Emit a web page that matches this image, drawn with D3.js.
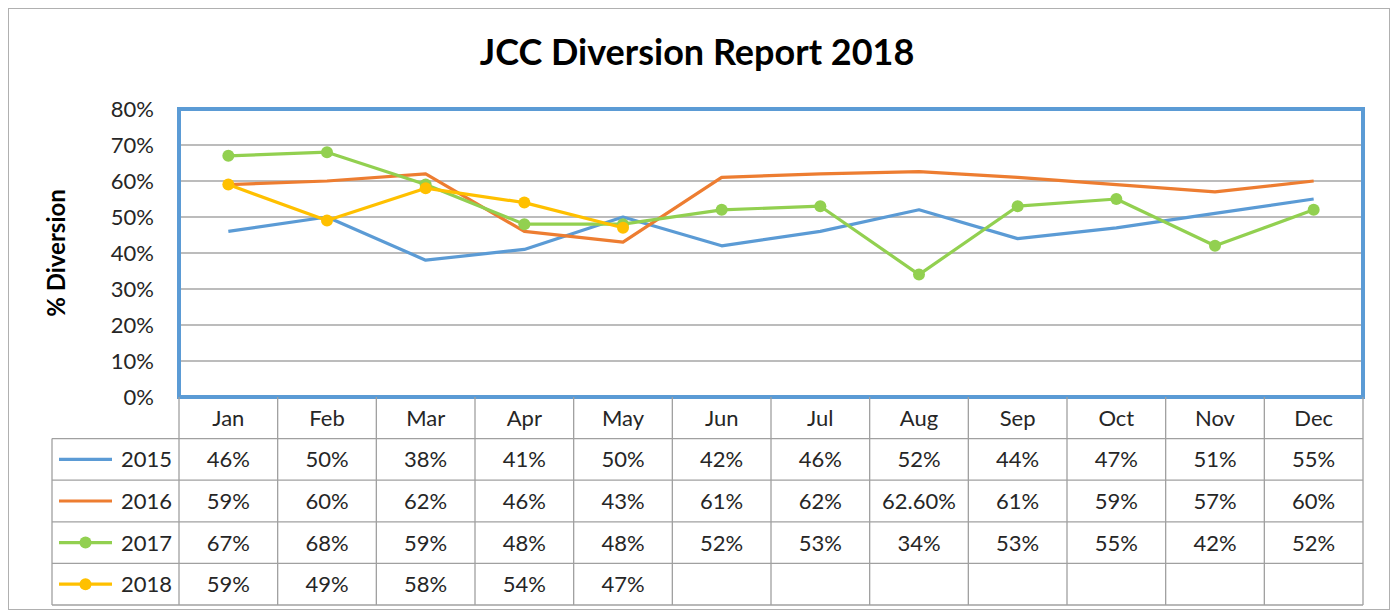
<!DOCTYPE html>
<html>
<head>
<meta charset="utf-8">
<script src="https://cdn.jsdelivr.net/npm/d3@7"></script>
<style>
body { margin: 0; background: #fff; }
text { font-family: Lato, "Open Sans", sans-serif; fill: #262626; }
</style>
</head>
<body>
<svg id="svg"></svg>
<script>
var width = 1396, height = 613;

var months = ["Jan", "Feb", "Mar", "Apr", "May", "Jun", "Jul", "Aug", "Sep", "Oct", "Nov", "Dec"];
var seriesNames = ["2015", "2016", "2017", "2018"];
var v2015 = [0.46, 0.50, 0.38, 0.41, 0.50, 0.42, 0.46, 0.52, 0.44, 0.47, 0.51, 0.55];
var v2016 = [0.59, 0.60, 0.62, 0.46, 0.43, 0.61, 0.62, 0.626, 0.61, 0.59, 0.57, 0.60];
var v2017 = [0.67, 0.68, 0.59, 0.48, 0.48, 0.52, 0.53, 0.34, 0.53, 0.55, 0.42, 0.52];
var v2018 = [0.59, 0.49, 0.58, 0.54, 0.47];
var tableLabels = [
	["46%", "50%", "38%", "41%", "50%", "42%", "46%", "52%", "44%", "47%", "51%", "55%"],
	["59%", "60%", "62%", "46%", "43%", "61%", "62%", "62.60%", "61%", "59%", "57%", "60%"],
	["67%", "68%", "59%", "48%", "48%", "52%", "53%", "34%", "53%", "55%", "42%", "52%"],
	["59%", "49%", "58%", "54%", "47%"]
];
var yTicks = [0, 0.1, 0.2, 0.3, 0.4, 0.5, 0.6, 0.7, 0.8];

var series = [
	{ name: seriesNames[0], values: v2015, color: "#5B9BD5", marker: false },
	{ name: seriesNames[1], values: v2016, color: "#ED7D31", marker: false },
	{ name: seriesNames[2], values: v2017, color: "#92D050", marker: true },
	{ name: seriesNames[3], values: v2018, color: "#FFC000", marker: true }
];

var svg = d3.select("#svg")
	.attr("width", width)
	.attr("height", height);

var plotLeft = 179, plotRight = 1363, plotTop = 109, plotBottom = 397;
var rowH = 41.6, legendLeft = 52;
var fs = "22px";

// outer frame
svg.append("rect")
	.attr("x", 8.5).attr("y", 8.5)
	.attr("width", 1381).attr("height", 601)
	.attr("fill", "#fff")
	.attr("stroke", "#B0B0B0")
	.attr("stroke-width", 1);

var x = d3.scaleBand()
	.domain(months)
	.range([plotLeft, plotRight]);
var y = d3.scaleLinear()
	.domain([0, 0.8])
	.range([plotBottom, plotTop]);

// gridlines
svg.append("g")
	.selectAll("line")
	.data(yTicks)
	.enter()
	.append("line")
	.attr("x1", plotLeft).attr("x2", plotRight)
	.attr("y1", function(d) { return y(d); })
	.attr("y2", function(d) { return y(d); })
	.attr("stroke", "#A6A6A6")
	.attr("stroke-width", 1.3);

// y axis labels
var yAxis = d3.axisLeft(y)
	.tickValues(yTicks)
	.tickFormat(d3.format(".0%"))
	.tickSize(0)
	.tickPadding(25);
var yg = svg.append("g")
	.attr("transform", "translate(" + plotLeft + ",0)")
	.call(yAxis);
yg.select(".domain").remove();
yg.selectAll("text")
	.style("font-size", fs)
	.style("font-family", "Lato, sans-serif")
	.attr("fill", "#262626");

// lines
var line = d3.line()
	.x(function(d, i) { return x(months[i]) + x.bandwidth() / 2; })
	.y(function(d) { return y(d); });

series.forEach(function(s) {
	svg.append("path")
		.datum(s.values)
		.attr("d", line)
		.attr("fill", "none")
		.attr("stroke", s.color)
		.attr("stroke-width", 3.2)
		.attr("stroke-linejoin", "round");
	if (s.marker) {
		svg.append("g")
			.selectAll("circle")
			.data(s.values)
			.enter()
			.append("circle")
			.attr("cx", function(d, i) { return x(months[i]) + x.bandwidth() / 2; })
			.attr("cy", function(d) { return y(d); })
			.attr("r", 6)
			.attr("fill", s.color);
	}
});

// plot border
svg.append("rect")
	.attr("x", plotLeft).attr("y", plotTop)
	.attr("width", plotRight - plotLeft)
	.attr("height", plotBottom - plotTop)
	.attr("fill", "none")
	.attr("stroke", "#5B9BD5")
	.attr("stroke-width", 4);

// data table
var table = svg.append("g");
var gridColor = "#A0A0A0";
var tableBottom = plotBottom + rowH * 5;

// verticals for months
table.selectAll("line.v")
	.data(months.concat(["end"]))
	.enter()
	.append("line")
	.attr("x1", function(d, i) { return plotLeft + i * x.bandwidth(); })
	.attr("x2", function(d, i) { return plotLeft + i * x.bandwidth(); })
	.attr("y1", plotBottom)
	.attr("y2", tableBottom)
	.attr("stroke", gridColor)
	.attr("stroke-width", 1.3);
// legend column left edge
table.append("line")
	.attr("x1", legendLeft).attr("x2", legendLeft)
	.attr("y1", plotBottom + rowH).attr("y2", tableBottom)
	.attr("stroke", gridColor).attr("stroke-width", 1.3);
// horizontals
table.selectAll("line.h")
	.data([1, 2, 3, 4, 5])
	.enter()
	.append("line")
	.attr("x1", legendLeft).attr("x2", plotRight)
	.attr("y1", function(d) { return plotBottom + d * rowH; })
	.attr("y2", function(d) { return plotBottom + d * rowH; })
	.attr("stroke", gridColor)
	.attr("stroke-width", 1.3);

// month header
table.selectAll("text.m")
	.data(months)
	.enter()
	.append("text")
	.attr("x", function(d) { return x(d) + x.bandwidth() / 2; })
	.attr("y", plotBottom + rowH / 2 + 8)
	.attr("text-anchor", "middle")
	.style("font-size", fs)
	.text(function(d) { return d; });

// rows
series.forEach(function(s, r) {
	var cy = plotBottom + rowH * (r + 1) + rowH / 2;
	table.append("line")
		.attr("x1", 59).attr("x2", 112)
		.attr("y1", cy).attr("y2", cy)
		.attr("stroke", s.color)
		.attr("stroke-width", 3.2);
	if (s.marker) {
		table.append("circle")
			.attr("cx", 85.5).attr("cy", cy)
			.attr("r", 6)
			.attr("fill", s.color);
	}
	table.append("text")
		.attr("x", 172)
		.attr("y", cy + 8)
		.attr("text-anchor", "end")
		.style("font-size", fs)
		.text(s.name);
	table.selectAll("text.r" + r)
		.data(tableLabels[r])
		.enter()
		.append("text")
		.attr("x", function(d, i) { return x(months[i]) + x.bandwidth() / 2; })
		.attr("y", cy + 8)
		.attr("text-anchor", "middle")
		.style("font-size", fs)
		.text(function(d) { return d; });
});

// title
svg.append("text")
	.attr("x", 697)
	.attr("y", 65)
	.attr("text-anchor", "middle")
	.style("font-size", "36px")
	.style("font-weight", "bold")
	.style("fill", "#000")
	.text("JCC Diversion Report 2018");

// y axis title
svg.append("text")
	.attr("transform", "translate(65," + ((plotTop + plotBottom) / 2) + ") rotate(-90)")
	.attr("text-anchor", "middle")
	.style("font-size", "24px")
	.style("font-weight", "bold")
	.style("fill", "#000")
	.text("% Diversion");
</script>
</body>
</html>
